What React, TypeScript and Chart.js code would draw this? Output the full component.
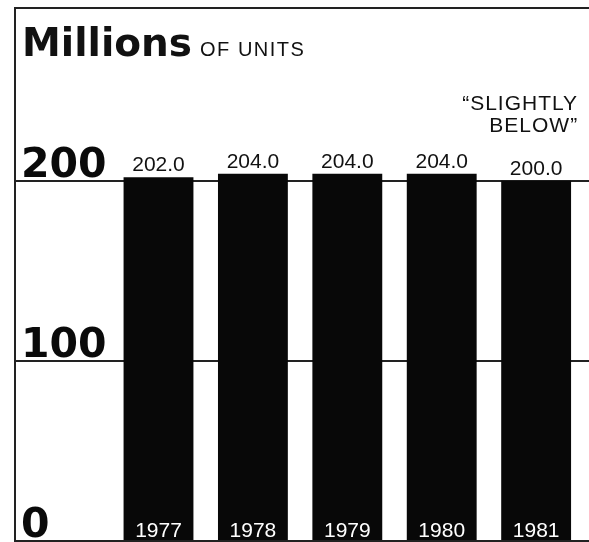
import React, { useEffect, useRef } from "react";
import { Chart, registerables } from "chart.js";

Chart.register(...registerables);

const years = [1977, 1978, 1979, 1980, 1981];
const unitsMillions = [202.0, 204.0, 204.0, 204.0, 200.0];
const notes = ["", "", "", "", "\u201CSLIGHTLY\nBELOW\u201D"];
const yTicks = [0, 100, 200];
const titleMain = "Millions";
const titleSub = "OF UNITS";

const BOLD = "'DejaVu Sans', 'Liberation Sans', sans-serif";
const REG = "'Liberation Sans', Arial, Helvetica, sans-serif";

const labelsPlugin = {
  id: "labelsPlugin",
  afterDatasetsDraw(chart: any) {
    const ctx = chart.ctx;
    const meta = chart.getDatasetMeta(0);
    const area = chart.chartArea;
    const yScale = chart.scales.y;
    ctx.save();
    // title
    ctx.fillStyle = "#111";
    ctx.textAlign = "left";
    ctx.textBaseline = "alphabetic";
    ctx.font = `bold 39px ${BOLD}`;
    ctx.fillText(titleMain, area.left + 7, 56);
    const w = ctx.measureText(titleMain).width;
    ctx.font = `20px ${REG}`;
    (ctx as any).letterSpacing = "1.5px";
    ctx.fillText(titleSub, area.left + 7 + w + 8, 56);
    (ctx as any).letterSpacing = "0px";

    // y tick labels, sitting just above their grid lines
    ctx.font = `bold 41px ${BOLD}`;
    ctx.fillStyle = "#0a0a0a";
    yTicks.forEach((t) => {
      ctx.fillText(String(t), area.left + 6, yScale.getPixelForValue(t) - 4);
    });

    meta.data.forEach((bar: any, i: number) => {
      const v = unitsMillions[i];
      ctx.font = `21px ${REG}`;
      ctx.textAlign = "center";
      ctx.fillStyle = "#111";
      ctx.fillText(v.toFixed(1), bar.x, bar.y - 6);
      ctx.fillStyle = "#fff";
      ctx.fillText(String(years[i]), bar.x, area.bottom - 4);
      if (notes[i]) {
        const lines = notes[i].split("\n");
        ctx.fillStyle = "#111";
        ctx.textAlign = "right";
        (ctx as any).letterSpacing = "1px";
        const right = bar.x + 42;
        lines.forEach((ln: string, k: number) => {
          ctx.fillText(ln, right, bar.y - 6 - 21 - 22 * (lines.length - k));
        });
        (ctx as any).letterSpacing = "0px";
      }
    });
    ctx.restore();
  },
};

export default function App() {
  const ref = useRef<HTMLCanvasElement>(null);
  useEffect(() => {
    if (!ref.current) return;
    const chart = new Chart(ref.current, {
      type: "bar",
      data: {
        datasets: [
          {
            data: unitsMillions.map((v, i) => ({ x: years[i], y: v })),
            backgroundColor: "#080808",
            borderWidth: 0,
            barPercentage: 0.74,
            categoryPercentage: 1,
          },
        ],
      },
      options: {
        responsive: false,
        animation: false,
        layout: { padding: { left: 15, top: 8, right: 0, bottom: 1 } },
        plugins: {
          legend: { display: false },
          tooltip: { enabled: false },
          title: { display: false },
        },
        scales: {
          x: {
            type: "linear",
            position: "top",
            offset: false,
            min: 1975.48,
            max: 1981.56,
            grid: { display: false, drawTicks: false },
            ticks: { display: false },
            border: { display: true, color: "#222", width: 2 },
          },
          y: {
            min: 0,
            max: 296,
            afterBuildTicks: (scale: any) => {
              scale.ticks = yTicks.map((v) => ({ value: v }));
            },
            grid: { color: "#222", lineWidth: 2, drawTicks: false },
            border: { display: true, color: "#222", width: 2 },
            ticks: { display: false },
          },
        },
      },
      plugins: [labelsPlugin],
    });
    return () => chart.destroy();
  }, []);
  return (
    <div style={{ position: "absolute", left: 0, top: 0, width: 589, height: 542, background: "#fff" }}>
      <canvas ref={ref} width={589} height={542} style={{ display: "block" }} />
    </div>
  );
}
